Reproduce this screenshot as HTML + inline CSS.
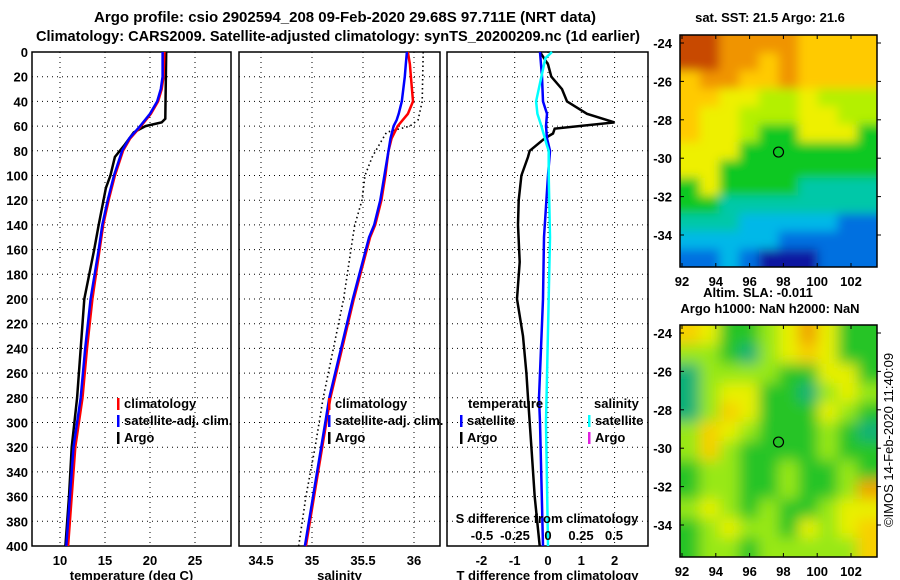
<!DOCTYPE html>
<html><head><meta charset="utf-8"><style>
body{margin:0;background:#fff;}
svg{display:block;font-family:"Liberation Sans",sans-serif;font-weight:bold;}
</style></head><body>
<svg id="c" width="900" height="580" xmlns="http://www.w3.org/2000/svg">
<text x="345" y="22" font-size="15" text-anchor="middle">Argo profile: csio 2902594_208 09-Feb-2020 29.68S 97.711E (NRT data)</text>
<text x="338" y="41" font-size="15" text-anchor="middle" textLength="604" lengthAdjust="spacingAndGlyphs">Climatology: CARS2009. Satellite-adjusted climatology: synTS_20200209.nc (1d earlier)</text>
<g id="plots"></g>
</svg>
<script>
// depth grid
const depthTicks=[0,20,40,60,80,100,120,140,160,180,200,220,240,260,280,300,320,340,360,380,400];
// temperature panel
const tDepth=[0,20,30,40,50,60,70,80,100,120,140,160,200,240,280,320,360,400];
const tClim=[21.6,21.5,21.3,20.9,20.1,19.0,17.8,17.0,16.1,15.4,14.8,14.4,13.6,13.0,12.5,11.7,11.3,10.9];
const tSat=[21.4,21.4,21.2,20.8,20.0,18.9,17.7,16.9,16.0,15.3,14.7,14.3,13.4,12.8,12.3,11.5,11.1,10.7];
const tArgoDepth=[0,54,57,60,65,75,85,100,110,140,160,200,280,320,360,400];
const tArgo=[21.8,21.7,21.3,19.5,18.2,17.2,16.1,15.6,15.1,14.3,13.8,12.7,11.9,11.3,11.0,10.6];
const tTicks=[10,15,20,25];
// salinity panel
const sDepth=[0,10,20,40,50,55,60,70,80,100,120,140,150,200,280,300,340,400];
const sClim=[35.94,35.96,35.97,35.99,35.94,35.89,35.84,35.78,35.75,35.72,35.68,35.62,35.57,35.41,35.18,35.14,35.06,34.94];
const sSat=[35.93,35.92,35.91,35.88,35.85,35.83,35.80,35.77,35.75,35.71,35.67,35.61,35.56,35.40,35.17,35.13,35.05,34.93];
const sArgoDepth=[0,40,55,60,65,75,85,100,120,140,150,200,280,320,360,400];
const sArgo=[36.09,36.08,36.04,35.96,35.73,35.66,35.59,35.52,35.49,35.42,35.40,35.31,35.11,35.03,34.94,34.87];
const sTicks=[34.5,35,35.5,36];
// difference panel
const dDepth=[0,10,20,30,40,50,57,62,66,70,80,85,100,120,140,170,200,230,260,280,320,360,400];
const dTArgo=[-0.24,0,0.1,0.42,0.57,1.17,2.0,0.2,0.15,-0.1,-0.55,-0.6,-0.8,-0.88,-0.9,-0.85,-0.93,-0.75,-0.65,-0.6,-0.5,-0.4,-0.25];
const dSatDepth=[0,20,40,45,50,60,70,80,100,150,200,280,300,400];
const dTSat=[-0.24,-0.18,-0.15,-0.09,-0.03,-0.06,-0.03,0.06,0,-0.12,-0.15,-0.27,-0.24,-0.15];
const dSSatDepth=[0,5,20,40,50,60,75,80,100,150,300,400];
const dSSat=[0.03,-0.02,-0.05,-0.09,-0.08,-0.05,-0.01,0.005,0.005,0.015,-0.015,0];
const dTTicks=[-2,-1,0,1,2];
const dSTicks=[-0.5,-0.25,0,0.25,0.5];
const dSTickLabels=["-0.5","-0.25","0","0.25","0.5"];
// maps
const lonTicks=[92,94,96,98,100,102];
const latTicks=[-24,-26,-28,-30,-32,-34];
const sstGrid=["OOooooYYYY","OOooYoYYYY","YooYYoYYYY","YYyyLLyLLL","YyyLLLyyLL","YyyLGGyyyG","yyyGGGGGGG","yyGGGGGGGG","GyGGGGTTTT","GGTTTTTTTT","TTTCCCCCBB","CCCCCBBBBB","BBCBDDDBBB"];
const slaGrid=["YyGGgyoyGG","ggGTgyYyGG","TggggGGyyG","TgyyGGTgyg","TgYyGGGygG","gYygGGGgGT","gYgGGGGgGG","GggGGgGGgG","GggGGgGGgo","gygGgGGgyy","GgyggGygyY","GggGgggggY"];
const argoLon=97.711, argoLat=-29.68;

const NS="http://www.w3.org/2000/svg";
const root=document.getElementById('plots');
function el(t,a,p){const e=document.createElementNS(NS,t);for(const k in a)e.setAttribute(k,a[k]);(p||root).appendChild(e);return e;}
const Y0=52,YS=1.235;
const yD=d=>Y0+d*YS;
function txt(x,y,s,anchor,size,p){const t=el('text',{x:x,y:y,'font-size':size||13,'text-anchor':anchor||'middle'},p);t.textContent=s;return t;}

function panel(name,x0,x1,xf,ticks,labels,xtitle){
  const g=el('g',{});
  
  
  depthTicks.forEach(d=>{el('line',{x1:x0,x2:x1,y1:yD(d),y2:yD(d),stroke:'#000','stroke-dasharray':'1 4'},g);});
  ticks.forEach((v,i)=>{const x=xf(v);el('line',{x1:x,x2:x,y1:Y0,y2:yD(400),stroke:'#000','stroke-dasharray':'1 4'},g);
    const t=txt(x,565,labels[i],'middle',13,g);});
  el('rect',{x:x0,y:Y0,width:x1-x0,height:yD(400)-Y0,fill:'none',stroke:'#000','stroke-width':1.5},g);
  const tt=txt((x0+x1)/2,580,xtitle,'middle',13,g);
  
  
  return g;
}
function line(g,xs,ds,xf,color,name,dash){
  const pts=xs.map((v,i)=>xf(v).toFixed(1)+','+yD(ds[i]).toFixed(1)).join(' ');
  const p=el('polyline',{points:pts,fill:'none',stroke:color,'stroke-width':dash?1.6:2.5},g);
  if(dash)p.setAttribute('stroke-dasharray','1.5 3');
  
  
}
function legend(g,x,y,color,label){
  el('rect',{x:x,y:y-10,width:2.5,height:12,fill:color},g);
  const t=txt(x+7,y,label,'start',13,g);
  
  
}
depthTicks.forEach(d=>{const t=txt(28,yD(d)+5,String(d),'end',13);
  
  });

const xT=v=>60+(v-10)*9;
const g1=panel('temperature-panel',32,231,xT,tTicks,tTicks.map(String),'temperature (deg C)');
line(g1,tArgo,tArgoDepth,xT,'#000','argo-temperature-line');
line(g1,tClim,tDepth,xT,'#f00','climatology-temperature-line');
line(g1,tSat,tDepth,xT,'#00f','satellite-temperature-line');
legend(g1,117,408,'#f00','climatology');legend(g1,117,425,'#00f','satellite-adj. clim.');legend(g1,117,442,'#000','Argo');

const xS=v=>312+(v-35)*102;
const g2=panel('salinity-panel',239,440,xS,sTicks,sTicks.map(String),'salinity');
line(g2,sArgo,sArgoDepth,xS,'#000','argo-salinity-line',true);
line(g2,sClim,sDepth,xS,'#f00','climatology-salinity-line');
line(g2,sSat,sDepth,xS,'#00f','satellite-salinity-line');
legend(g2,328,408,'#f00','climatology');legend(g2,328,425,'#00f','satellite-adj. clim.');legend(g2,328,442,'#000','Argo');

const xDT=v=>548+v*33.3;
const xDS=v=>548+v*132;
const g3=panel('difference-panel',447,648,xDT,dTTicks,dTTicks.map(String),'T difference from climatology');
line(g3,dTArgo,dDepth,xDT,'#000','argo-t-difference-line');
line(g3,dTSat,dSatDepth,xDT,'#00f','satellite-t-difference-line');
line(g3,dSSat,dSSatDepth,xDS,'#0ff','satellite-s-difference-line');
txt(468,408,'temperature','start',13,g3);txt(594,408,'salinity','start',13,g3);
legend(g3,460,425,'#00f','satellite');legend(g3,460,442,'#000','Argo');
legend(g3,588,425,'#0ff','satellite');legend(g3,588,442,'#e020e0','Argo');
txt(547,523,'S difference from climatology','middle',13,g3);
dSTicks.forEach((v,i)=>{const t=txt(xDS(v),540,dSTickLabels[i],'middle',13,g3);
  
  });

const pal={O:'#c84a00',o:'#f09400',Y:'#ffca00',y:'#eef000',L:'#b4f000',G:'#10c820',T:'#00c8a8',C:'#00b8e8',B:'#0070e0',D:'#0818a0',g:'#90e818'};
const palSla={Y:'#f8d000',y:'#e8f000',G:'#28c428',g:'#98e818',T:'#10b078',o:'#f0a400'};
const defs=el('defs',{});
const f=el('filter',{id:'bl',x:'-10%',y:'-10%',width:'120%',height:'120%'},defs);
el('feGaussianBlur',{stdDeviation:'7'},f);
const f2=el('filter',{id:'bl2',x:'-10%',y:'-10%',width:'120%',height:'120%'},defs);
el('feGaussianBlur',{stdDeviation:'5'},f2);
function map(name,top,grid,colors,filt){
  const X0=680,X1=877,H=232;
  const g=el('g',{});
  
  
  const cp=el('clipPath',{id:'cp'+top},defs);el('rect',{x:X0,y:top,width:X1-X0,height:H},cp);
  const inner=el('g',{'clip-path':'url(#cp'+top+')'},g);
  const gg=el('g',{filter:'url(#'+filt+')'},inner);
  const rows=grid.length,cols=grid[0].length,cw=(X1-X0)/cols,rh=H/rows;
  grid.forEach((r,i)=>{for(let j=0;j<cols;j++){el('rect',{x:X0+j*cw-(j==0?15:0),y:top+i*rh-(i==0?15:0),width:cw+1+(j==0||j==cols-1?15:0),height:rh+1+(i==0||i==rows-1?15:0),fill:colors[r[j]]||'#28c428'},gg);}});
  el('rect',{x:X0,y:top,width:X1-X0,height:H,fill:'none',stroke:'#000','stroke-width':1.5},g);
  const lx=v=>682+(v-92)*16.9, ly=v=>top+8+(-24-v)*19.2;
  lonTicks.forEach(v=>{el('line',{x1:lx(v),x2:lx(v),y1:top,y2:top+4,stroke:'#000'},g);el('line',{x1:lx(v),x2:lx(v),y1:top+H,y2:top+H-4,stroke:'#000'},g);
    const t=txt(lx(v),top+H+19,String(v),'middle',13,g);});
  latTicks.forEach(v=>{el('line',{x1:X0,x2:X0+4,y1:ly(v),y2:ly(v),stroke:'#000'},g);el('line',{x1:X1,x2:X1+4,y1:ly(v),y2:ly(v),stroke:'#000'},g);
    const t=txt(672,ly(v)+5,String(v),'end',13,g);});
  const c=el('circle',{cx:lx(argoLon),cy:ly(argoLat),r:5,fill:'none',stroke:'#000','stroke-width':1.2},g);
  
  
}
map('sst-map',35,sstGrid,pal,'bl2');
map('sla-map',325,slaGrid,palSla,'bl');
txt(770,22,'sat. SST: 21.5 Argo: 21.6','middle',13);
txt(758,297,'Altim. SLA: -0.011','middle',13);
txt(770,313,'Argo h1000: NaN h2000: NaN','middle',13);
const cr=txt(0,0,'©IMOS 14-Feb-2020 11:40:09','middle',13);
cr.setAttribute('transform','translate(893,440) rotate(-90)');
cr.setAttribute('font-weight','normal');


</script>
</body></html>
